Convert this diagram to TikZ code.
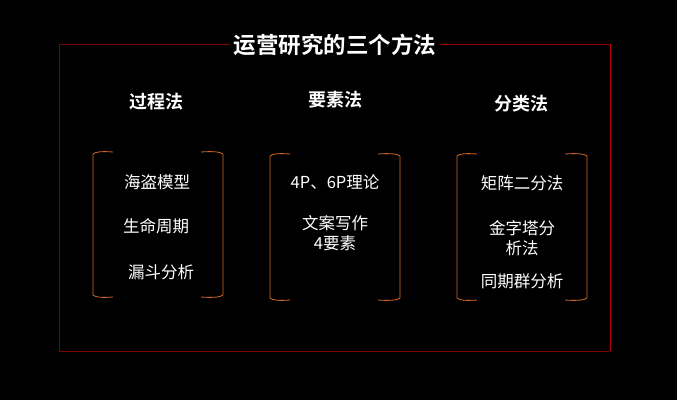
\documentclass[tikz,border=0pt]{standalone}
\usepackage{fontspec}
\newfontfamily\cjk{Noto Sans CJK SC}
\newfontfamily\cjkb{Noto Sans CJK SC Bold}
\begin{document}
\begin{tikzpicture}[x=1pt,y=-1pt,
  framed/.style={line width=0.9pt},
  brk/.style={draw={rgb,255:red,215;green,105;blue,35}, line width=0.8pt},
  ttl/.style={text=white, font=\cjkb\fontsize{22.5}{26}\selectfont},
  hdr/.style={text=white, font=\cjkb\fontsize{18}{21}\selectfont},
  itm/.style={text=white, font=\cjk\fontsize{16.5}{20}\selectfont, align=center}]
\fill[black] (0,0) rectangle (677,400);
\useasboundingbox (0,0) rectangle (677,400);
% frame
\node[ttl] (title) at (335,45) {运营研究的三个方法};
\coordinate (tl) at (59,44);
\coordinate (tr) at (610,44);
\coordinate (bl) at (59,351);
\coordinate (br) at (610,351);
\draw[framed, draw={rgb,255:red,130;green,0;blue,0}] (title.west |- tl) -- (tl) -- (bl) -- (br);
\draw[framed, draw={rgb,255:red,150;green,0;blue,0}] (title.east |- tr) -- (tr);
\draw[framed, draw={rgb,255:red,185;green,0;blue,5}] (tr) -- (br);
% headers
\node[hdr] (h1) at (156,102) {过程法};
\node[hdr] (h2) at (335,100) {要素法};
\node[hdr] (h3) at (521,104) {分类法};
% brackets
\newcommand\bracketpair[4]{% left x, right x, top y, bottom y
  \draw[brk] (#1+20,#3) .. controls (#1+8,#3-1) and (#1+2,#3) .. (#1,#3+2) -- (#1,#4-2) .. controls (#1+2,#4) and (#1+8,#4+1) .. (#1+20,#4);
  \draw[brk] (#2-22,#3) .. controls (#2-10,#3-1) and (#2-2,#3) .. (#2,#3+2) -- (#2,#4-2) .. controls (#2-2,#4) and (#2-10,#4+1) .. (#2-22,#4);
}
\bracketpair{93}{223}{152}{297}
\bracketpair{270}{400}{154}{300}
\bracketpair{457}{587}{154}{300}
% items
\node[itm] (a1) at (157,182) {海盗模型};
\node[itm] (a2) at (156,226) {生命周期};
\node[itm] (a3) at (161,272) {漏斗分析};
\node[itm] (b1) at (335,182) {4P、6P理论};
\node[itm] (b2) at (335,233) {文案写作\\[-0.5pt]4要素};
\node[itm] (c1) at (522,183) {矩阵二分法};
\node[itm] (c2) at (522,238.5) {金字塔分\\[0pt]析法};
\node[itm] (c3) at (522,281) {同期群分析};
\end{tikzpicture}
\end{document}
